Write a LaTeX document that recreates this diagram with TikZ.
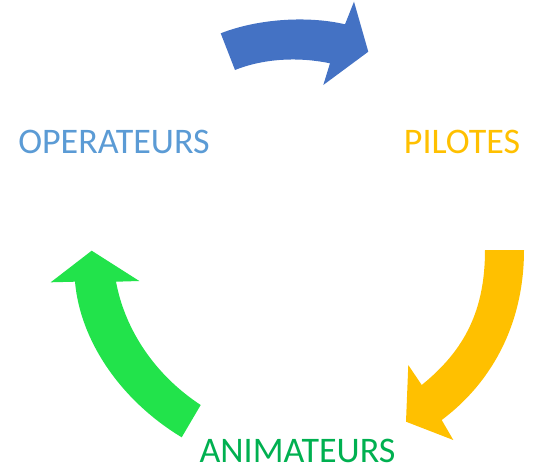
\documentclass[tikz,border=0pt]{standalone}
\usepackage{fontspec}
\setmainfont{Carlito}
\definecolor{cblue}{RGB}{68,114,196}
\definecolor{tblue}{RGB}{91,155,213}
\definecolor{cyel}{RGB}{255,192,0}
\definecolor{cgreen}{RGB}{34,227,75}
\definecolor{tgreen}{RGB}{0,176,80}
\tikzset{lbl/.style={inner sep=0pt,anchor=base,font=\fontsize{36}{40}\selectfont}}
\begin{document}
\begin{tikzpicture}[x=1pt,y=-1pt]
\useasboundingbox (0,0) rectangle (544,469);
% blue arrow
\fill[cblue] (220.7,33.3) .. controls (260,18) and (310,16) .. (345,24.3) -- (354,1.7) -- (368.3,51.7) -- (323.3,85) -- (330,63.3) .. controls (300,57) and (265,58) .. (235,70) -- cycle;
% yellow arrow
\fill[cyel] (485,250) .. controls (485,310) and (465,350) .. (421.7,385) -- (408.3,365) -- (406,421.7) -- (453.3,440) -- (441.7,420) .. controls (495,380) and (524,320) .. (524,250) -- cycle;
% green arrow
\fill[cgreen] (181.7,437.3) .. controls (120,400) and (80,340) .. (75,281.7) -- (50.7,282.3) -- (91.7,250.7) -- (139.3,281) -- (116,281.7) .. controls (125,330) and (155,375) .. (200.7,405) -- cycle;
\node[lbl,text=tblue] (op) at (114,153) {OPERATEURS};
\node[lbl,text=cyel] (pi) at (462,153) {PILOTES};
\node[lbl,text=tgreen] (an) at (297.5,462.5) {ANIMATEURS};
\end{tikzpicture}
\end{document}
